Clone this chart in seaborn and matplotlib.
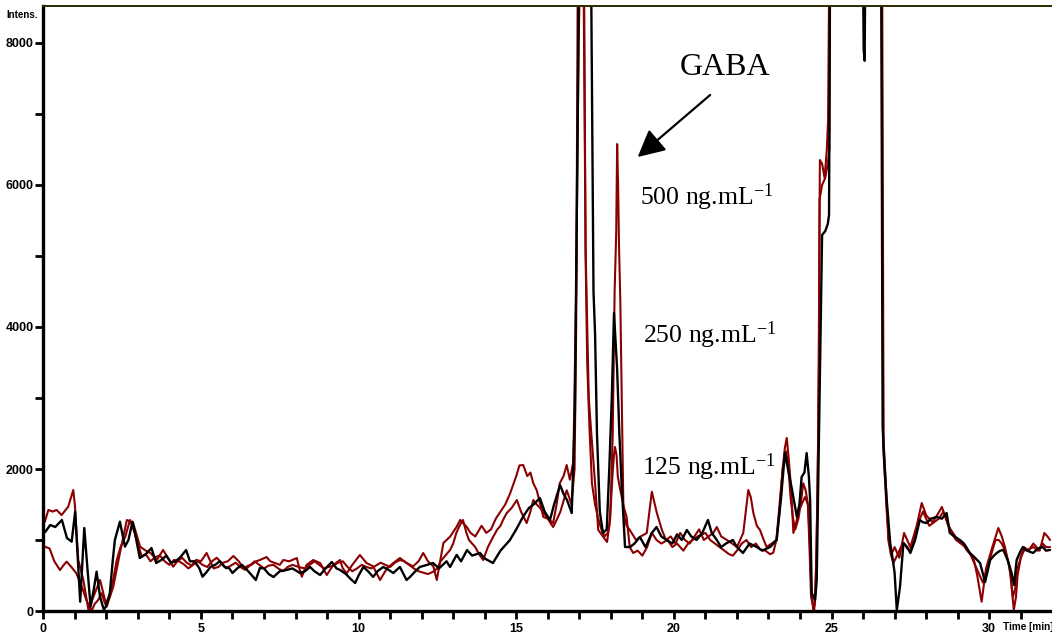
import numpy as np
import pandas as pd
import matplotlib
matplotlib.use("Agg")
import matplotlib.pyplot as plt
import seaborn as sns

# ---------------- data ----------------
black_t = [0.0,0.06,0.22,0.38,0.59,0.75,0.9,1.01,1.1,1.17,1.3,1.4,1.5,1.6,1.69,1.8,1.92,2.0,2.11,2.2,2.27,2.43,2.59,2.7,2.83,2.95,3.06,3.25,3.43,3.58,3.75,3.9,4.05,4.2,4.35,4.53,4.65,4.8,4.95,5.05,5.2,5.3,5.45,5.6,5.75,5.9,6.0,6.15,6.3,6.5,6.74,6.87,7.0,7.15,7.3,7.5,7.72,7.9,8.14,8.3,8.46,8.6,8.78,8.95,9.15,9.3,9.41,9.6,9.75,9.89,10.0,10.15,10.3,10.46,10.6,10.78,10.95,11.1,11.31,11.52,11.63,11.8,11.94,12.1,12.36,12.55,12.79,12.9,13.11,13.25,13.44,13.6,13.85,14.0,14.26,14.5,14.8,15.0,15.21,15.4,15.55,15.75,15.9,16.07,16.2,16.39,16.5,16.61,16.76,16.86,16.95,17.0,17.36,17.45,17.5,17.56,17.65,17.75,17.87,17.95,18.03,18.1,18.2,18.27,18.34,18.45,18.61,18.75,18.92,19.1,19.3,19.45,19.6,19.77,19.95,20.1,20.25,20.41,20.55,20.72,20.9,21.08,21.2,21.36,21.5,21.65,21.87,22.0,22.19,22.4,22.63,22.8,23.05,23.26,23.4,23.52,23.62,23.73,23.9,23.98,24.05,24.14,24.21,24.28,24.32,24.37,24.48,24.53,24.58,24.63,24.7,24.8,24.88,24.92,24.96,25.98,26.02,26.05,26.08,26.57,26.62,26.68,26.75,26.86,26.95,27.0,27.07,27.17,27.28,27.4,27.5,27.65,27.8,27.9,28.02,28.15,28.33,28.5,28.65,28.75,28.9,29.07,29.2,29.39,29.55,29.71,29.87,30.03,30.15,30.24,30.35,30.45,30.6,30.71,30.79,30.87,31.0,31.07,31.2,31.39,31.55,31.7,31.8,31.93]
black_i = [1150,1113,1211,1183,1282,1028,976,1399,700,131,1169,600,61,300,554,200,14,80,253,700,1000,1258,906,1000,1258,1000,746,800,887,676,720,780,680,700,760,859,700,700,600,483,560,620,650,700,620,600,535,600,650,560,437,606,600,520,479,560,578,600,535,560,620,560,507,600,690,600,578,520,450,394,500,620,560,480,560,620,580,535,620,437,479,560,620,640,676,600,700,620,790,700,859,780,817,740,676,850,1000,1150,1324,1450,1500,1592,1400,1282,1500,1775,1650,1563,1380,2800,7000,9800,9800,4500,3900,2500,1400,1099,1150,2000,3000,4197,3400,2500,1803,901,901,950,1042,900,1100,1183,1050,1000,950,1080,1000,1141,1050,1000,1100,1282,1100,1000,900,950,1000,900,817,950,901,850,901,1000,1600,2225,2000,1746,1324,1500,1887,1950,2225,1900,1563,254,155,437,1845,3254,5296,5350,5450,5577,9800,9800,7900,7750,9800,9800,2600,2042,1563,958,700,535,14,338,958,900,817,1000,1282,1250,1239,1300,1324,1300,1380,1099,1050,1000,950,817,750,676,408,718,780,817,850,859,700,535,366,718,850,901,850,817,880,901,850,860]

red500_t = [0.0,0.05,0.16,0.3,0.42,0.58,0.7,0.79,0.95,1.0,1.11,1.27,1.43,1.59,1.8,2.01,2.22,2.43,2.65,2.85,3.07,3.25,3.4,3.6,3.8,3.95,4.12,4.25,4.4,4.55,4.7,4.85,5.0,5.18,5.3,5.4,5.55,5.7,5.85,6.03,6.2,6.35,6.5,6.6,6.75,6.87,7.08,7.2,7.35,7.5,7.61,7.8,8.04,8.12,8.2,8.35,8.56,8.78,8.99,9.2,9.41,9.5,9.62,9.8,10.04,10.25,10.46,10.68,10.9,11.1,11.31,11.52,11.73,11.9,12.05,12.2,12.37,12.48,12.69,12.9,13.11,13.22,13.43,13.55,13.7,13.9,14.05,14.2,14.35,14.5,14.65,14.8,15.0,15.1,15.22,15.35,15.45,15.54,15.65,15.76,15.86,16.0,16.17,16.28,16.38,16.5,16.6,16.7,16.81,16.9,16.98,17.05,17.12,17.2,17.3,17.38,17.5,17.6,17.75,17.88,17.98,18.06,18.12,18.17,18.2,18.23,18.26,18.3,18.35,18.4,18.5,18.6,18.8,18.95,19.14,19.3,19.46,19.62,19.75,19.9,20.05,20.2,20.35,20.5,20.65,20.8,20.95,21.1,21.25,21.36,21.5,21.68,21.85,22.0,22.1,22.2,22.28,22.36,22.44,22.52,22.63,22.73,22.85,22.94,23.1,23.25,23.35,23.45,23.52,23.58,23.65,23.72,23.79,23.88,23.95,24.05,24.16,24.25,24.3,24.36,24.42,24.47,24.52,24.58,24.63,24.7,24.78,24.85,24.89,24.94,26.58,26.64,26.7,26.75,26.82,26.9,27.0,27.15,27.3,27.5,27.7,27.86,28.0,28.2,28.35,28.5,28.7,28.85,29.0,29.15,29.3,29.5,29.62,29.76,29.9,30.1,30.29,30.4,30.5,30.65,30.72,30.78,30.85,30.9,31.0,31.1,31.25,31.4,31.6,31.75,31.85,31.93]
red500_i = [1250,1258,1423,1400,1423,1352,1420,1469,1704,1500,718,437,14,202,437,61,343,817,1282,1240,906,850,817,718,860,750,624,700,750,680,640,720,700,817,700,600,620,680,700,775,700,600,640,650,700,718,760,700,676,650,718,700,746,600,483,650,718,676,507,650,718,600,530,650,789,676,630,437,600,676,746,676,630,700,817,700,630,437,958,1046,1187,1282,1183,1100,1050,1200,1100,1150,1300,1400,1500,1650,1900,2050,2056,1900,1950,1800,1700,1500,1324,1300,1239,1500,1800,1900,2056,1850,2100,4500,8000,9800,9800,5085,3000,2500,1800,1141,1050,972,1300,2500,4500,5324,6577,6000,5127,4380,2873,1380,1200,1141,1000,1050,1099,1680,1380,1141,1000,1050,950,1100,1000,950,1050,1150,1000,1050,1100,1183,1050,1000,950,900,1000,1100,1400,1704,1600,1380,1200,1141,1000,901,950,1000,1400,2000,2300,2437,2100,1700,1099,1250,1400,1500,1606,1500,1100,300,14,100,800,2500,6352,6300,6100,6500,6915,9800,9800,2300,1800,1400,1000,800,900,750,1099,900,1200,1521,1350,1250,1350,1465,1200,1100,1000,950,850,750,500,131,600,900,1169,1050,900,600,300,14,200,500,750,900,850,950,850,1099,1050,1000]

red125_t = [0.0,0.05,0.2,0.35,0.53,0.65,0.74,0.89,1.05,1.22,1.37,1.53,1.63,1.74,1.85,1.96,2.1,2.2,2.33,2.45,2.6,2.75,2.9,3.12,3.25,3.4,3.55,3.7,3.85,4.0,4.15,4.3,4.45,4.6,4.75,4.9,5.05,5.2,5.35,5.5,5.65,5.8,5.95,6.1,6.25,6.4,6.55,6.7,6.85,7.0,7.15,7.3,7.45,7.6,7.75,7.9,8.1,8.3,8.45,8.6,8.75,8.9,9.05,9.2,9.35,9.5,9.65,9.8,9.95,10.1,10.25,10.4,10.55,10.7,10.85,11.0,11.15,11.31,11.45,11.6,11.75,11.9,12.05,12.2,12.35,12.5,12.6,12.75,12.9,13.0,13.1,13.2,13.31,13.42,13.5,13.6,13.7,13.82,13.95,14.1,14.27,14.4,14.5,14.6,14.7,14.85,15.02,15.15,15.33,15.45,15.54,15.65,15.76,15.87,15.97,16.07,16.17,16.3,16.4,16.5,16.6,16.68,16.75,16.85,16.9,16.96,17.14,17.2,17.25,17.32,17.4,17.5,17.6,17.7,17.8,17.9,17.95,18.0,18.05,18.1,18.13,18.18,18.22,18.3,18.35,18.42,18.5,18.6,18.71,18.85,19.0,19.15,19.3,19.45,19.6,19.8,19.95,20.1,20.3,20.45,20.59,20.75,21.0,21.15,21.3,21.45,21.6,21.75,21.87,22.0,22.15,22.3,22.45,22.6,22.73,22.9,23.05,23.15,23.25,23.35,23.45,23.55,23.62,23.7,23.78,23.85,23.95,24.05,24.1,24.18,24.25,24.3,24.35,24.45,24.5,24.55,24.6,24.62,24.7,24.8,24.88,24.93,24.96,26.6,26.65,26.72,26.8,26.88,26.96,27.1,27.2,27.3,27.4,27.5,27.62,27.75,27.9,28.0,28.1,28.25,28.4,28.55,28.68,28.8,28.95,29.1,29.25,29.4,29.5,29.6,29.7,29.8,29.9,30.0,30.1,30.2,30.3,30.4,30.5,30.6,30.68,30.75,30.82,30.9,31.0,31.1,31.25,31.4,31.55,31.7,31.8,31.93]
red125_i = [900,906,880,700,577,650,695,620,530,343,150,0,100,155,250,100,200,400,718,900,1046,1282,1100,770,800,700,760,780,700,650,720,700,660,600,650,700,650,620,700,750,680,600,640,680,620,580,640,700,650,600,640,650,600,560,620,650,620,600,650,700,650,600,620,640,680,700,620,560,600,650,620,600,640,680,650,620,680,718,700,650,600,560,540,520,550,600,700,780,859,950,1100,1200,1282,1100,1000,950,900,800,718,900,1046,1150,1200,1300,1380,1450,1563,1400,1239,1400,1563,1500,1450,1380,1324,1250,1183,1300,1400,1550,1700,1600,1500,2000,4000,9800,9800,5000,3500,2600,1800,1500,1300,1150,1050,1100,1200,1500,1900,2200,2310,2200,1900,1700,1600,1450,1324,900,817,850,780,900,1100,1000,950,1000,900,950,850,950,1000,1050,1100,1000,950,900,850,800,780,850,950,1000,900,950,870,850,800,820,1000,1500,2000,2250,2100,1600,1300,1150,1300,1600,1800,1700,1500,900,200,0,400,1500,3500,5800,6000,6100,6300,6500,9800,9800,2400,1800,1000,800,676,800,900,950,880,850,1000,1250,1400,1300,1200,1250,1300,1400,1250,1100,1000,950,900,800,700,600,500,400,550,700,850,1000,1000,950,850,700,500,200,300,600,750,850,870,900,850,950,900,900]

x_major = [0, 5, 10, 15, 20, 25, 30]
y_major = [0, 2000, 4000, 6000, 8000]
conc_labels = ["500 ng.mL", "250 ng.mL", "125 ng.mL"]

RED = "#8b0000"
BLACK = "#000000"

sns.set_style("ticks")
plt.rcParams["font.family"] = ["Liberation Sans Narrow", "Liberation Sans", "DejaVu Sans"]
plt.rcParams["mathtext.fontset"] = "custom"
plt.rcParams["mathtext.rm"] = "Liberation Serif"
plt.rcParams["mathtext.it"] = "Liberation Serif"
plt.rcParams["text.color"] = "black"

fig = plt.figure(figsize=(10.52, 6.37), dpi=100)
ax = fig.add_axes([43.3 / 1052, 26 / 637, (1052 - 43.3) / 1052, (611 - 6) / 637])

df_r5 = pd.DataFrame({"t": red500_t, "i": red500_i})
df_r1 = pd.DataFrame({"t": red125_t, "i": red125_i})
df_b = pd.DataFrame({"t": black_t, "i": black_i})
sns.lineplot(data=df_r1, x="t", y="i", color=RED, lw=1.5, sort=False, estimator=None, ax=ax)
sns.lineplot(data=df_r5, x="t", y="i", color=RED, lw=1.5, sort=False, estimator=None, ax=ax)
sns.lineplot(data=df_b, x="t", y="i", color=BLACK, lw=1.7, sort=False, estimator=None, ax=ax)

ax.set_xlim(0, (1052 - 43.3) / 31.53)
ax.set_ylim(0, (611 - 6) / 0.071)
ax.set_xlabel("")
ax.set_ylabel("")

ax.spines["right"].set_visible(False)
ax.spines["top"].set_visible(True)
ax.spines["top"].set_color("#2b2b00")
ax.spines["top"].set_linewidth(1.4)
for s in ["left", "bottom"]:
    ax.spines[s].set_linewidth(2.4)
    ax.spines[s].set_color("black")

ax.set_xticks(x_major)
ax.set_xticklabels([str(v) for v in x_major])
ax.set_xticks([v for v in range(0, 32) if v % 5 != 0], minor=True)
ax.set_yticks(y_major)
ax.set_yticklabels([str(v) for v in y_major])
ax.set_yticks([1000, 3000, 5000, 7000], minor=True)
ax.tick_params(axis="both", which="both", direction="out", color="black", width=2, length=6,
               bottom=True, left=True, top=False, right=False, labelcolor="black")
ax.tick_params(axis="x", which="major", pad=3, labelsize=9)
ax.tick_params(axis="y", which="major", pad=1, labelsize=9)
for lab in ax.get_xticklabels() + ax.get_yticklabels():
    lab.set_fontweight("bold")

fig.text(6 / 1052, 1 - 15 / 637, "Intens.", fontsize=7, fontweight="bold", va="center", ha="left", color="black")
fig.text(1003 / 1052, 1 - 627 / 637, "Time [min]", fontsize=7.2, fontweight="bold", va="center", ha="left", color="black")

serif = ["Liberation Serif", "DejaVu Serif"]
ax.text(21.62, 7648, "GABA", family=serif, fontsize=23, ha="center", va="center", color="black")
ax.annotate("", xy=(18.85, 6394), xytext=(21.15, 7268),
            arrowprops=dict(arrowstyle="-|>,head_length=0.55,head_width=0.28",
                            color="black", lw=1.6, mutation_scale=30, shrinkA=0, shrinkB=0))
label_pos = [(18.92, 5718), (19.01, 3775), (18.98, 1915)]
for (tx, ty), lab in zip(label_pos, conc_labels):
    ax.text(tx, ty, lab + r"$^{\mathrm{-1}}$", family=serif, fontsize=18.5, ha="left", va="baseline", color="black")

fig.savefig("out.png", dpi=100)
